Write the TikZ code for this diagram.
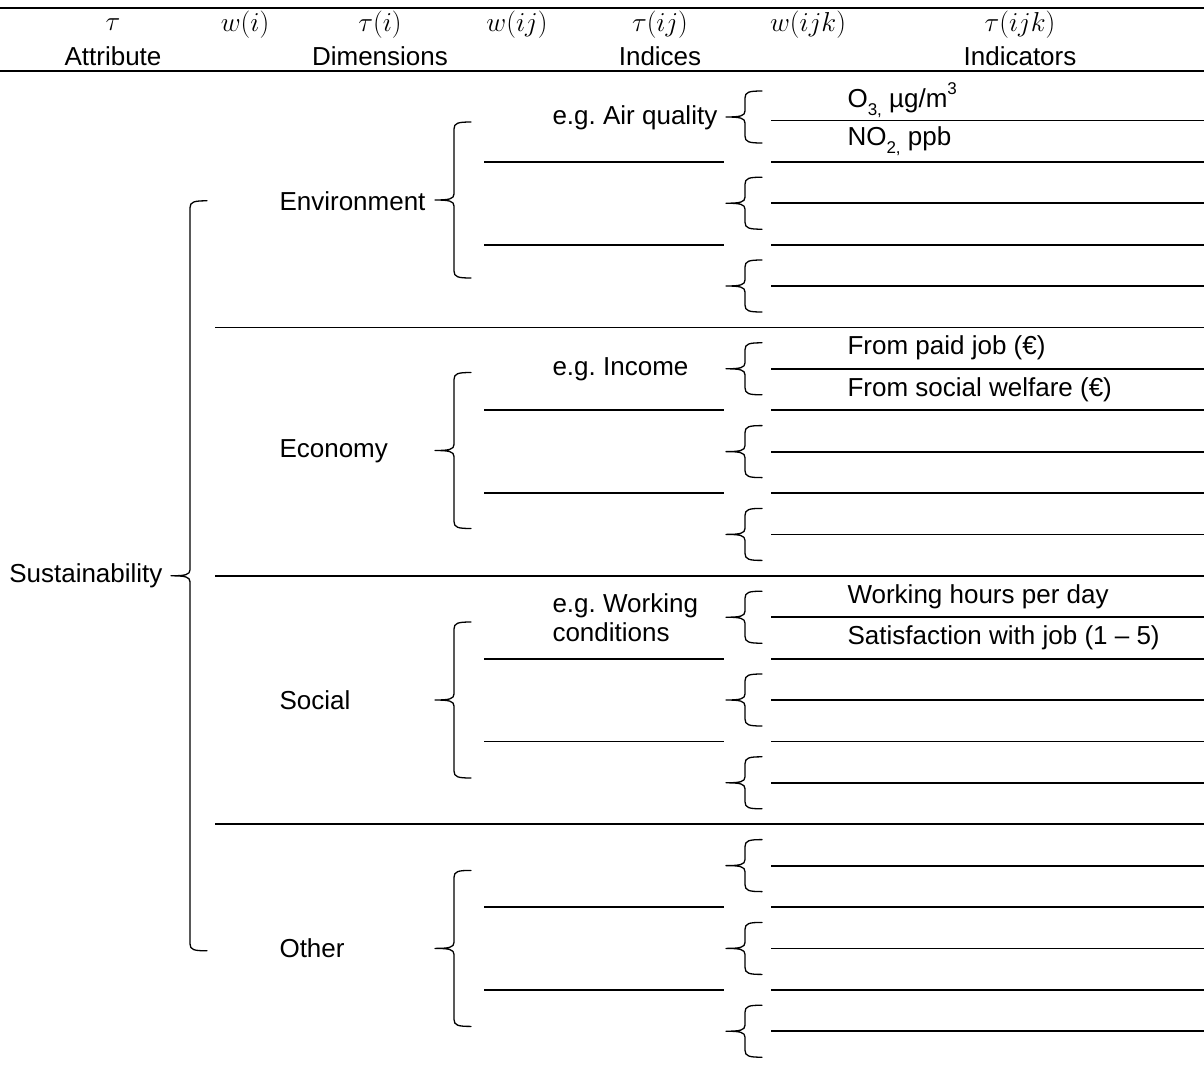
\documentclass[tikz,border=0pt]{standalone}
\usepackage{graphicx}
\usepackage{fontspec}
\setmainfont{Liberation Sans}
\def\subtxt#1{\raisebox{-8pt}{\fontsize{17}{17}\selectfont #1}}
\def\suptxt#1{\raisebox{13pt}{\fontsize{17}{17}\selectfont #1}}
\def\mhead#1{\scalebox{1.1}{$#1$}}
\begin{document}
\frenchspacing
\begin{tikzpicture}[x=1pt,y=-1pt,line join=round,font=\fontsize{26}{29}\selectfont]
		\tikzset{rule/.style={line width=2.6pt},
			row/.style={line width=1.8pt},
			curly/.style={line width=1.3pt,line cap=round}}
		% spine x, tip y, half height
		\def\wbrace(#1,#2,#3){\draw[curly] ({#1+17},{#2-#3}) .. controls ({#1+4},{#2-#3}) and (#1,{#2-#3+1}) .. (#1,{#2-#3+7}) -- (#1,{#2-6}) .. controls (#1,{#2-1}) and ({#1-5},#2) .. ({#1-19},#2) .. controls ({#1-5},#2) and (#1,{#2+1}) .. (#1,{#2+6}) -- (#1,{#2+#3-7}) .. controls (#1,{#2+#3-1}) and ({#1+4},{#2+#3}) .. ({#1+17},{#2+#3});}
		\useasboundingbox (0,0) rectangle (1204,1071);
		
		\draw[rule] (0,8)--(1204,8);
		\draw[rule] (0,71)--(1204,71);
		\node (tau) at (113,25) {\mhead{\tau}};
		\node (wi) at (245,25) {\mhead{w(i)}};
		\node (taui) at (380,25) {\mhead{\tau(i)}};
		\node (wij) at (517,25) {\mhead{w(ij)}};
		\node (tauij) at (660,25) {\mhead{\tau(ij)}};
		\node (wijk) at (808,25) {\mhead{w(ijk)}};
		\node (tauijk) at (1020,25) {\mhead{\tau(ijk)}};
		\node (attr) at (113,56) {Attribute};
		\node (dims) at (380,56) {Dimensions};
		\node (inds) at (660,56) {Indices};
		\node (indic) at (1020,56) {Indicators};
		
		% dimensions
		\foreach \y in {327.4,575.8,824.2} \draw[row] (215,\y)--(1204,\y);
		% indices
		\foreach \y in {161.8,244.6,410.2,493,658.6,741.4,907,989.8} \draw[row] (484,\y)--(724,\y);
		% indicators
		\foreach \y in {120.4,161.8,203.2,244.6,286,368.8,410.2,451.6,493,534.4,617.2,658.6,700,741.4,782.8,865.6,907,948.4,989.8,1031.2} \draw[row] (771,\y)--(1204,\y);
		
		\wbrace(190,575.8,375);
		\foreach \y in {200,450.5,700,948.4} \wbrace(454,\y,78);
		\foreach \y in {117,203.2,286,368.8,451.6,534.4,617.2,700,782.8,865.6,948.4,1031.2} \wbrace(745,\y,26);
		
		\node[anchor=east] (sus) at (166,575.8) {Sustainability};
		\node[anchor=west] (env) at (276,201) {Environment};
		\node[anchor=west] (eco) at (276,451.6) {Economy};
		\node[anchor=west] (soc) at (276,700) {Social};
		\node[anchor=west] (oth) at (276,948.4) {Other};
		
		\node[anchor=west] (air) at (549,118) {e.g. Air quality};
		\node[anchor=west] (inc) at (549,368.8) {e.g. Income};
		\node[anchor=west,align=left] (work) at (549,617.2) {e.g. Working\\conditions};
		
		\node[anchor=west] (ozone) at (844,99.7) {O\subtxt{3,} µg/m\suptxt{3}};
		\node[anchor=west] (nox) at (844,141.1) {NO\subtxt{2,} ppb};
		\node[anchor=west] (paid) at (844,348.1) {From paid job (€)};
		\node[anchor=west] (welf) at (844,389.5) {From social welfare (€)};
		\node[anchor=west] (hours) at (844,596.5) {Working hours per day};
		\node[anchor=west] (satis) at (844,637.9) {Satisfaction with job (1 -- 5)};
		\end{tikzpicture}
\end{document}
